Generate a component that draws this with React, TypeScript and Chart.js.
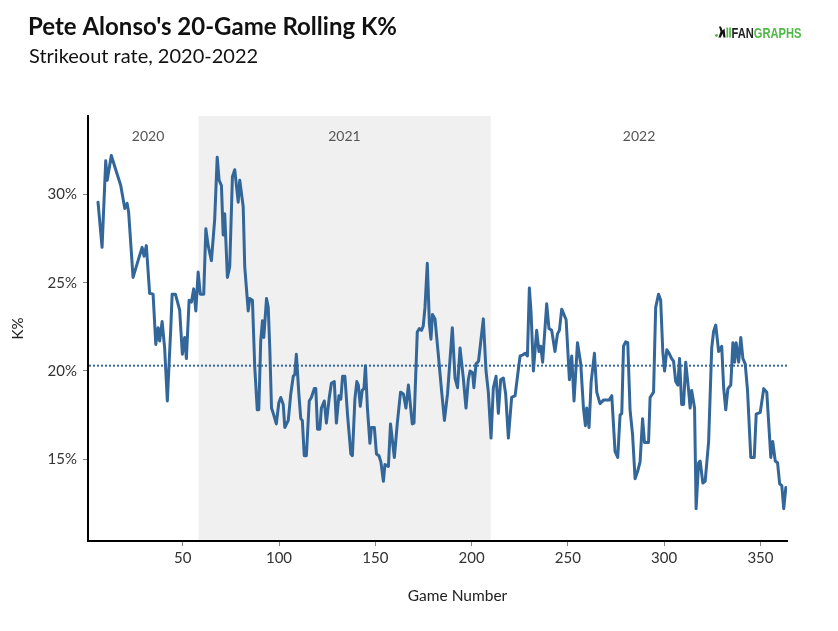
import { useEffect, useRef } from 'react';
import { Chart, registerables } from 'chart.js';

Chart.register(...registerables);

// 20-game rolling strikeout rate (game number, K%)
const games = [
  6.0, 8.1, 10.0, 10.8, 12.9, 15.5, 17.8, 19.9, 21.1, 21.9, 24.2, 26.8, 28.9, 29.9, 31.1, 32.8, 34.6, 36.0, 37.2, 38.0,
  39.3, 40.6, 42.0, 43.8, 44.5, 46.2, 48.4,
  49.8, 51.0, 51.9, 53.3, 54.5, 55.7, 56.8, 58.0, 59.1, 60.9, 62.0, 63.2, 64.9, 66.6, 67.9, 68.9, 70.1, 71.0, 71.8, 73.2,
  74.4, 75.8, 77.0, 78.8, 79.6, 81.4, 82.2, 84.0, 84.8, 86.2, 87.4, 88.7, 89.5, 90.5, 91.4, 92.1, 93.5, 94.4, 95.2, 96.1,
  97.3, 98.6, 99.9, 100.9, 102.2, 103.0, 104.8, 106.1, 107.4, 108.2, 109.0, 110.3, 111.3, 112.1, 113.1, 114.2, 115.7,
  116.8, 118.3, 119.1, 120.0, 121.2, 122.0, 123.5, 124.6, 126.1, 127.2, 128.7, 129.8, 131.1, 132.1, 133.0, 134.2, 135.6,
  137.3, 138.1, 139.4, 140.4, 141.2, 142.2, 143.2, 144.1, 144.9, 145.9, 147.2, 148.0, 149.5, 150.6, 151.9, 152.9, 154.2,
  155.0,
  156.8, 157.9, 159.9, 161.4, 163.1, 164.6, 165.9, 167.2, 169.2, 170.1, 171.8, 172.9, 174.0, 174.9, 175.8, 177.0, 178.1,
  178.9, 179.7, 181.0, 182.7, 184.4, 185.9, 187.5, 190.0, 191.4, 192.7, 194.0, 195.7, 197.1, 198.3, 199.2, 200.5, 201.2,
  202.3, 203.6, 204.7, 206.1, 207.5, 208.7, 210.1,
  211.3, 212.7, 213.9, 215.1, 216.5, 217.7, 219.1, 220.8, 222.6, 224.3, 225.2, 226.5, 227.8, 229.0, 230.0, 230.9, 232.1,
  233.8, 235.0, 235.9, 236.9, 239.0, 240.2, 241.6, 243.3, 244.6, 245.6, 246.8, 249.1, 250.8, 252.0, 253.2, 255.0, 256.7,
  258.1, 259.1, 259.8, 261.0,
  262.1, 263.8, 265.0, 266.7, 268.5, 271.4, 272.8, 274.5, 275.9, 277.1, 278.0, 278.9, 280.0, 281.1, 282.3, 283.6, 284.9,
  286.2, 287.5, 288.8, 289.8, 291.9, 292.7, 294.5, 295.6, 297.1, 298.2, 299.3, 300.2, 301.4, 302.6, 303.9, 304.9, 306.0,
  307.1, 308.0, 309.1, 310.1, 311.2, 312.7, 313.5, 314.3, 315.8,
  316.6, 317.9, 318.7, 320.1, 321.3, 323.1, 324.7, 325.7, 326.8, 328.3, 329.9, 330.9, 332.0, 333.1, 334.6, 335.7, 336.6,
  337.4, 338.7, 339.8, 340.9, 342.1, 343.3, 345.0, 346.8, 347.8, 349.9, 351.7, 353.3, 355.4, 356.4, 357.7, 358.9, 360.0,
  361.1, 362.1, 363.2,
];

const kPct = [
  29.56, 27.0, 31.9, 30.8, 32.2, 31.3, 30.5, 29.2, 29.5, 29.0, 25.3, 26.25, 27.0, 26.5, 27.1, 24.4, 24.35, 21.5, 22.45,
  21.7, 22.8, 21.3, 18.3, 22.45, 24.35, 24.35, 23.45,
  20.95, 21.9, 20.7, 24.0, 23.9, 24.65, 23.4, 25.6, 24.35, 24.35, 28.05, 27.1, 26.25, 28.6, 32.1, 30.8, 30.5, 27.7, 28.9,
  25.3, 25.9, 31.0, 31.4, 29.56, 30.8, 29.3, 25.9, 23.4, 24.1, 24.0, 20.2, 17.8, 17.8, 21.7, 22.85, 21.9, 24.1, 23.6,
  21.3, 17.9,
  17.5, 17.0, 18.2, 18.5, 18.1, 16.8, 17.2, 18.7, 19.7, 19.8, 20.95, 18.7, 17.3, 17.2, 15.2, 15.2, 18.3, 18.5, 19.0, 19.0,
  16.7, 16.7, 17.9, 18.3, 17.05, 18.5, 19.3, 19.4, 17.05, 18.6, 18.4, 19.7, 19.7, 17.5, 15.3, 15.2, 18.4, 19.4, 19.2,
  18.0, 18.9, 19.0, 20.3, 17.9, 15.9, 16.8, 16.8, 15.3, 15.2, 14.85, 13.75, 14.7,
  14.6, 17.0, 15.1, 17.0, 18.8, 18.7, 17.9, 19.2, 17.0, 17.05, 22.2, 22.4, 22.3, 22.55, 23.6, 26.1, 22.65, 21.8, 23.2,
  22.95, 20.95, 18.9, 17.2, 18.7, 22.45, 19.6, 19.05, 21.3, 19.6, 17.9, 19.5, 20.0, 19.9, 19.05, 20.4, 20.55, 21.6,
  22.95, 20.0, 18.8, 16.2,
  19.05, 19.7, 17.6, 19.5, 19.6, 18.7, 16.2, 18.5, 18.6, 20.1, 20.85, 20.9, 21.0, 20.85, 24.7, 23.3, 20.0, 22.3, 21.1,
  21.4, 20.5, 23.8, 22.4, 22.3, 21.1, 22.1, 22.3, 23.5, 22.9, 19.5, 20.85, 18.3, 21.6, 20.4, 17.9, 16.9, 17.9, 16.8,
  19.4, 21.0, 18.8, 18.15, 18.35, 18.35, 18.6, 15.45, 15.1, 17.5, 17.6, 21.4, 21.65, 21.6, 17.8, 16.4, 13.9, 14.3,
  14.85, 17.3, 15.95, 15.95, 18.5, 18.8, 23.6, 24.35, 24.0, 21.1, 20.0, 21.2, 21.0, 20.7, 20.55, 19.4, 19.2, 20.7, 18.1,
  18.1, 20.5, 18.9, 17.9, 18.9, 17.9,
  12.2, 14.8, 14.9, 13.65, 13.75, 16.0, 21.3, 22.25, 22.6, 21.1, 21.4, 19.05, 17.8, 19.0, 19.2, 21.6, 20.5, 21.6, 20.5,
  21.9, 20.7, 20.4, 18.9, 15.1, 15.1, 17.55, 17.65, 19.0, 18.8, 15.1, 16.0, 14.9, 14.8, 13.6, 13.5, 12.2, 13.4,
];

const seasons = ['2020', '2021', '2022'];
const seasonLabelGame = [32, 134, 287];
const season2021 = [58.2, 209.9];
const meanK = 20.3;
const xTicks = [50, 100, 150, 200, 250, 300, 350];
const yTicks = [15, 20, 25, 30];

const BLUE = '#336699';
const FONT = 'Lato, "Noto Sans", sans-serif';

const decorations = {
  id: 'decorations',
  beforeDatasetsDraw(chart: Chart) {
    const { ctx, chartArea: a } = chart;
    const x = chart.scales.x;
    const y = chart.scales.y;
    ctx.save();

    // 2021 season band
    const x0 = x.getPixelForValue(season2021[0]);
    const x1 = x.getPixelForValue(season2021[1]);
    ctx.fillStyle = '#f0f0f0';
    ctx.fillRect(x0, a.top, x1 - x0, a.bottom - a.top - 1);

    // season labels
    ctx.fillStyle = '#555';
    ctx.font = `14px ${FONT}`;
    ctx.textAlign = 'center';
    ctx.textBaseline = 'middle';
    seasons.forEach((s, i) => {
      ctx.fillText(s, x.getPixelForValue(seasonLabelGame[i]), a.top + 20);
    });

    // average line
    const ym = y.getPixelForValue(meanK);
    ctx.strokeStyle = BLUE;
    ctx.lineWidth = 2;
    ctx.setLineDash([2, 2]);
    ctx.beginPath();
    ctx.moveTo(a.left + 1, ym);
    ctx.lineTo(a.right, ym);
    ctx.stroke();
    ctx.restore();
  },
  afterDraw(chart: Chart) {
    const { ctx } = chart;
    ctx.save();
    ctx.textAlign = 'left';
    ctx.textBaseline = 'alphabetic';
    ctx.fillStyle = '#111';
    ctx.font = `bold 24px ${FONT}`;
    ctx.fillText("Pete Alonso's 20-Game Rolling K%", 28, 35);
    ctx.font = `20px ${FONT}`;
    ctx.fillText('Strikeout rate, 2020-2022', 29, 63);

    // x axis title (sits right of the panel centre in the original)
    ctx.fillStyle = '#222';
    ctx.font = `15.5px ${FONT}`;
    ctx.textAlign = 'center';
    ctx.textBaseline = 'middle';
    ctx.fillText('Game Number', 457.5, 596);

    // FanGraphs logo
    ctx.textAlign = 'left';
    ctx.textBaseline = 'alphabetic';
    ctx.fillStyle = '#50b848';
    ctx.beginPath();
    ctx.arc(716.5, 35.5, 1.4, 0, Math.PI * 2);
    ctx.fill();
    ctx.fillRect(726.5, 27.5, 1.7, 10);
    ctx.fillRect(729.2, 27.5, 1.7, 10);
    ctx.fillStyle = '#111';
    ctx.beginPath();
    ctx.moveTo(718.5, 37.5);
    ctx.lineTo(720.5, 31.5);
    ctx.lineTo(719, 26.5);
    ctx.lineTo(721, 26.5);
    ctx.lineTo(722.5, 30.5);
    ctx.lineTo(724.5, 28.5);
    ctx.lineTo(725.5, 37.5);
    ctx.lineTo(723.5, 37.5);
    ctx.lineTo(722.5, 33.5);
    ctx.lineTo(720.8, 37.5);
    ctx.closePath();
    ctx.fill();

    ctx.font = 'bold 15px "Liberation Sans", Arial, sans-serif';
    const wFan = ctx.measureText('FAN').width;
    const wAll = ctx.measureText('FANGRAPHS').width;
    const sx = 70 / wAll;
    ctx.translate(731.5, 37.8);
    ctx.scale(sx, 1);
    ctx.fillStyle = '#222';
    ctx.fillText('FAN', 0, 0);
    ctx.fillStyle = '#50b848';
    ctx.fillText('GRAPHS', wFan, 0);
    ctx.restore();
  },
};

export default function App() {
  const canvasRef = useRef<HTMLCanvasElement>(null);
  const chartRef = useRef<Chart | null>(null);

  useEffect(() => {
    document.body.style.margin = '0';
    if (!canvasRef.current) return;
    if (chartRef.current) chartRef.current.destroy();

    Chart.defaults.font.family = FONT;

    chartRef.current = new Chart(canvasRef.current, {
      type: 'line',
      data: {
        datasets: [
          {
            data: games.map((g, i) => ({ x: g, y: kPct[i] })),
            borderColor: BLUE,
            borderWidth: 3,
            pointRadius: 0,
            tension: 0,
            borderJoinStyle: 'round',
            borderCapStyle: 'round',
          },
        ],
      },
      options: {
        animation: false,
        responsive: false,
        events: [],
        layout: { padding: { top: 116, right: 51, bottom: 0, left: 0 } },
        plugins: {
          legend: { display: false },
          tooltip: { enabled: false },
        },
        scales: {
          x: {
            type: 'linear',
            min: 0.8,
            max: 363.8,
            afterBuildTicks: (s: any) => {
              s.ticks = xTicks.map((v) => ({ value: v }));
            },
            afterFit: (s: any) => {
              s.height = 90;
            },
            border: { display: true, color: '#000', width: 2 },
            grid: { drawOnChartArea: false, drawTicks: true, tickLength: 5, color: '#888' },
            ticks: {
              color: '#333',
              font: { size: 15 },
              padding: 3,
              maxRotation: 0,
              autoSkip: false,
              callback: (v: any) => String(v),
            },
            title: { display: false },
          },
          y: {
            type: 'linear',
            min: 10.37,
            max: 34.44,
            afterBuildTicks: (s: any) => {
              s.ticks = yTicks.map((v) => ({ value: v }));
            },
            afterFit: (s: any) => {
              s.width = 88;
            },
            border: { display: true, color: '#000', width: 2 },
            grid: { drawOnChartArea: false, drawTicks: true, tickLength: 5, color: '#888' },
            ticks: {
              color: '#333',
              font: { size: 15 },
              padding: 6,
              callback: (v: any) => `${v}%`,
            },
            title: {
              display: true,
              text: 'K%',
              color: '#222',
              font: { size: 15 },
              padding: { top: 9, bottom: 0 },
            },
          },
        },
      },
      plugins: [decorations],
    });

    return () => {
      if (chartRef.current) {
        chartRef.current.destroy();
        chartRef.current = null;
      }
    };
  }, []);

  return (
    <div style={{ width: 838, height: 631, background: '#fff' }}>
      <canvas ref={canvasRef} width={838} height={631} />
    </div>
  );
}
